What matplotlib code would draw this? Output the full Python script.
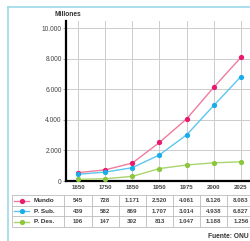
import matplotlib
matplotlib.use("Agg")
import matplotlib.pyplot as plt
from matplotlib.ticker import FuncFormatter

years = ["1650", "1750", "1850", "1950", "1975", "2000", "2025"]
series_names = ["Mundo", "P. Sub.", "P. Des."]
mundo = [545, 728, 1171, 2520, 4061, 6126, 8083]
p_sub = [439, 582, 869, 1707, 3014, 4938, 6827]
p_des = [106, 147, 302, 813, 1047, 1188, 1256]
colors = ["#e8196e", "#1aaee8", "#8cc63f"]
line_colors = ["#f07b9c", "#5cc6ee", "#a9d46e"]
yticks = [0, 2000, 4000, 6000, 8000, 10000]

def fmt(v):
    return f"{v:,.0f}".replace(",", ".")

plt.rcParams['font.family'] = ['Liberation Sans', 'DejaVu Sans']
W, H = 251, 241
fig = plt.figure(figsize=(W / 100, H / 100), dpi=100)

# light blue frame
fig.add_artist(plt.Line2D([8.5 / W, 8.5 / W], [0, 1 - 7 / H], color="#9dd8ea", lw=1.2))
fig.add_artist(plt.Line2D([8.5 / W, 1], [1 - 7 / H, 1 - 7 / H], color="#9dd8ea", lw=1.2))

# main chart
ax = fig.add_axes([66 / W, 1 - 181 / H, 1 - 66 / W, (181 - 21) / H])
x = list(range(len(years)))
data = [mundo, p_sub, p_des]
for vals, c, lc in zip(data, colors, line_colors):
    ax.plot(x, vals, color=lc, lw=1.0, zorder=3)
    ax.plot(x, vals, "o", color=c, ms=3.8, mec="none", zorder=4)
ax.set_xlim(-0.44, 6.37)
ax.set_ylim(0, 10460)
ax.set_yticks(yticks)
ax.yaxis.set_major_formatter(FuncFormatter(lambda v, p: fmt(v)))
ax.set_xticks(x)
ax.set_xticklabels([])
ax.tick_params(axis="x", length=0)
ax.tick_params(axis="y", length=2, width=0.5, color="#888888", pad=1,
               labelsize=4.8, labelcolor="#444444")
ax.grid(True, color="#cccccc", lw=0.7)
ax.set_axisbelow(True)
for s in ["top", "right"]:
    ax.spines[s].set_visible(False)
ax.spines["left"].set_linewidth(1.6)
ax.spines["bottom"].set_linewidth(1.6)
fig.text(68 / W, 1 - 15 / H, "Millones", ha="center", va="center",
         fontsize=4.8, fontweight="bold", color="#333333")

# data table below
tx = fig.add_axes([12 / W, 1 - 227 / H, 1 - 12 / W, (227 - 181) / H])
tx.set_xlim(-2.43, 6.37)
tx.set_ylim(2.5, -1.84)
tx.axis("off")
for i, yr in enumerate(years):
    tx.text(i, -1.2, yr, ha="center", va="center", fontsize=4.4,
            fontweight="bold", color="#444444")
for r in range(4):
    tx.plot([-2.43, 6.37], [r - 0.5, r - 0.5], color="#bbbbbb", lw=0.6, clip_on=False)
for b in [-2.43, -0.5] + [i + 0.5 for i in range(6)]:
    tx.plot([b, b], [-0.5, 2.5], color="#bbbbbb", lw=0.6)
for r, (name, vals, c, lc) in enumerate(zip(series_names, data, colors, line_colors)):
    tx.plot([-2.35, -1.8], [r, r], color=lc, lw=1.0)
    tx.plot([-2.08], [r], "o", color=c, ms=3.8, mec="none")
    tx.text(-1.62, r, name, ha="left", va="center", fontsize=4.6,
            fontweight="bold", color="#333333")
    for i, v in enumerate(vals):
        tx.text(i, r, fmt(v), ha="center", va="center", fontsize=4.4,
                fontweight="bold", color="#444444")

fig.text(249 / W, 1 - 237 / H, "Fuente: ONU", ha="right", va="center",
         fontsize=4.8, fontweight="bold", color="#333333")

fig.savefig("out.png", dpi=100)
